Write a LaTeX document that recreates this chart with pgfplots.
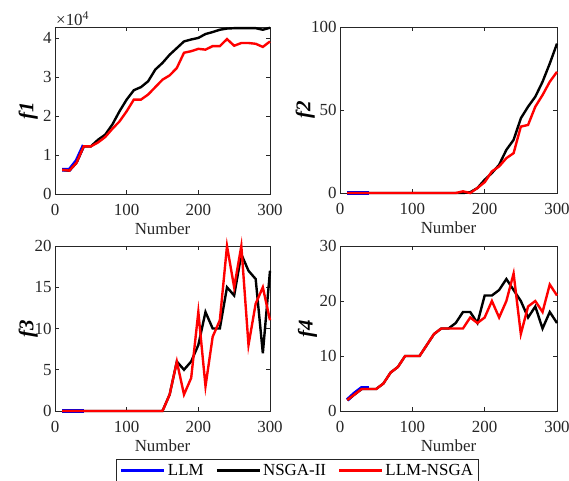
\documentclass[border=0pt]{standalone}
\usepackage{pgfplots}
\pgfplotsset{compat=1.18}
\usepackage{fontspec}
\setmainfont{Liberation Serif}
\definecolor{mgray}{gray}{0.15}
\pgfplotsset{
  mat/.style={
    scale only axis, xmin=0, xmax=300, ymin=0, clip=false,
    xtick={0,100,200,300},
    tick align=inside, major tick length=4bp,
    axis line style={mgray, line width=0.6pt},
    every tick/.style={mgray, line width=0.6pt},
    tick label style={font=\fontsize{17}{19}\selectfont, text=mgray},
    xticklabel style={yshift=-7bp},
    /pgf/number format/assume math mode=true,
    label style={font=\fontsize{17}{19}\selectfont, text=mgray},
    xlabel={Number},
    xlabel style={at={(axis description cs:0.5,0)}, anchor=center, yshift=-35bp},
    ylabel style={font=\fontsize{21}{23}\selectfont\bfseries\itshape, text=black, anchor=center},
    legend image code/.code={\draw[#1] (0bp,0bp) -- (43bp,0bp);},
  },
  llm/.style={blue, line width=3.8pt},
  nsga/.style={black, line width=2.4pt},
  lln/.style={red, line width=2.4pt},
}
\begin{document}
\begin{tikzpicture}
\path[use as bounding box] (0,0) rectangle (569bp,-481bp);

% f1
\begin{axis}[mat, at={(55bp,-194bp)}, anchor=south west, width=215bp, height=167bp,
  ymax=42800, ytick={0,10000,20000,30000,40000}, yticklabels={0,1,2,3,4},
  scaled y ticks=false, ylabel={f1},
  ylabel style={at={(axis description cs:-0.125,0.5)}}]
\addplot[llm] coordinates {(10,6200) (20,6200) (30,8500) (40,12500)};
\addplot[nsga] coordinates {(10,6200) (20,6000) (30,8000) (40,12200) (50,12200) (60,13900)
 (70,15200) (80,17800) (90,21200) (100,24200) (110,26600) (120,27400) (130,28900)
 (140,31900) (150,33600) (160,35700) (170,37400) (180,39100) (190,39600) (200,40000)
 (210,41000) (220,41500) (230,42100) (240,42400) (250,42500) (260,42500) (270,42500)
 (280,42500) (290,42100) (300,42600)};
\addplot[lln] coordinates {(10,6200) (20,6000) (30,8000) (40,12200) (50,12200) (60,13200)
 (70,14600) (80,16700) (90,18600) (100,21200) (110,24200) (120,24200) (130,25500)
 (140,27400) (150,29300) (160,30400) (170,32300) (180,36200) (190,36600) (200,37200)
 (210,37000) (220,37900) (230,37900) (240,39700) (250,38000) (260,38700) (270,38700)
 (280,38500) (290,37700) (300,39100)};
\node[anchor=south west, font=\fontsize{17}{19}\selectfont, text=mgray, inner sep=1bp]
  at (rel axis cs:0,1) {×10\textsuperscript{4}};
\end{axis}

% f2
\begin{axis}[mat, at={(340bp,-193bp)}, anchor=south west, width=217bp, height=166bp,
  ymax=100, ytick={0,50,100}, ylabel={f2},
  ylabel style={at={(axis description cs:-0.16,0.5)}}]
\addplot[llm] coordinates {(10,0) (20,0) (30,0) (40,0)};
\addplot[nsga] coordinates {(10,0) (20,0) (30,0) (40,0) (50,0) (60,0) (70,0) (80,0) (90,0)
 (100,0) (110,0) (120,0) (130,0) (140,0) (150,0) (160,0) (170,0) (180,0.5) (190,3)
 (200,8) (210,12) (220,17) (230,26) (240,32) (250,45) (260,52) (270,58) (280,67)
 (290,78) (300,90)};
\addplot[lln] coordinates {(10,0) (20,0) (30,0) (40,0) (50,0) (60,0) (70,0) (80,0) (90,0)
 (100,0) (110,0) (120,0) (130,0) (140,0) (150,0) (160,0) (170,1) (180,0) (190,3)
 (200,6.5) (210,13) (220,16) (230,21) (240,24) (250,40) (260,41) (270,52) (280,59)
 (290,67) (300,73)};
\end{axis}

% f3
\begin{axis}[mat, at={(55bp,-411bp)}, anchor=south west, width=215bp, height=165bp,
  ymax=20, ytick={0,5,10,15,20}, ylabel={f3},
  ylabel style={at={(axis description cs:-0.125,0.5)}},
  legend columns=3,
  legend style={at={(axis description cs:1.126,-0.29)}, anchor=north,
    draw=mgray, line width=0.6pt, font=\fontsize{17}{19}\selectfont,
    inner xsep=3bp, inner ysep=3bp,
    /tikz/every even column/.append style={column sep=10bp}},
  legend cell align=left]
\addplot[llm] coordinates {(10,0) (20,0) (30,0) (40,0)};
\addplot[nsga] coordinates {(10,0) (20,0) (30,0) (40,0) (50,0) (60,0) (70,0) (80,0) (90,0)
 (100,0) (110,0) (120,0) (130,0) (140,0) (150,0) (160,2) (170,6) (180,5) (190,6)
 (200,8) (210,12) (220,10) (230,10) (240,15) (250,14) (260,19) (270,17) (280,16)
 (290,7) (300,17)};
\addplot[lln] coordinates {(10,0) (20,0) (30,0) (40,0) (50,0) (60,0) (70,0) (80,0) (90,0)
 (100,0) (110,0) (120,0) (130,0) (140,0) (150,0) (160,2) (170,6) (180,2) (190,4)
 (200,12) (210,3) (220,9) (230,11) (240,20) (250,15) (260,20) (270,8) (280,13)
 (290,15) (300,11)};
\legend{LLM, NSGA-II, LLM-NSGA}
\end{axis}

% f4
\begin{axis}[mat, at={(340bp,-411bp)}, anchor=south west, width=217bp, height=165bp,
  ymax=30, ytick={0,10,20,30}, ylabel={f4},
  ylabel style={at={(axis description cs:-0.15,0.5)}}]
\addplot[llm] coordinates {(10,2) (20,3.2) (30,4.2) (40,4.2)};
\addplot[nsga] coordinates {(10,2) (20,3) (30,4) (40,4) (50,4) (60,5) (70,7) (80,8) (90,10)
 (100,10) (110,10) (120,12) (130,14) (140,15) (150,15) (160,16) (170,18) (180,18)
 (190,16) (200,21) (210,21) (220,22) (230,24) (240,22) (250,20) (260,17) (270,19)
 (280,15) (290,18) (300,16)};
\addplot[lln] coordinates {(10,2) (20,3) (30,4) (40,4) (50,4) (60,5) (70,7) (80,8) (90,10)
 (100,10) (110,10) (120,12) (130,14) (140,15) (150,15) (160,15) (170,15) (180,17)
 (190,16) (200,17) (210,20) (220,17) (230,20) (240,25) (250,14) (260,19) (270,20)
 (280,18) (290,23) (300,21)};
\end{axis}
\end{tikzpicture}
\end{document}
